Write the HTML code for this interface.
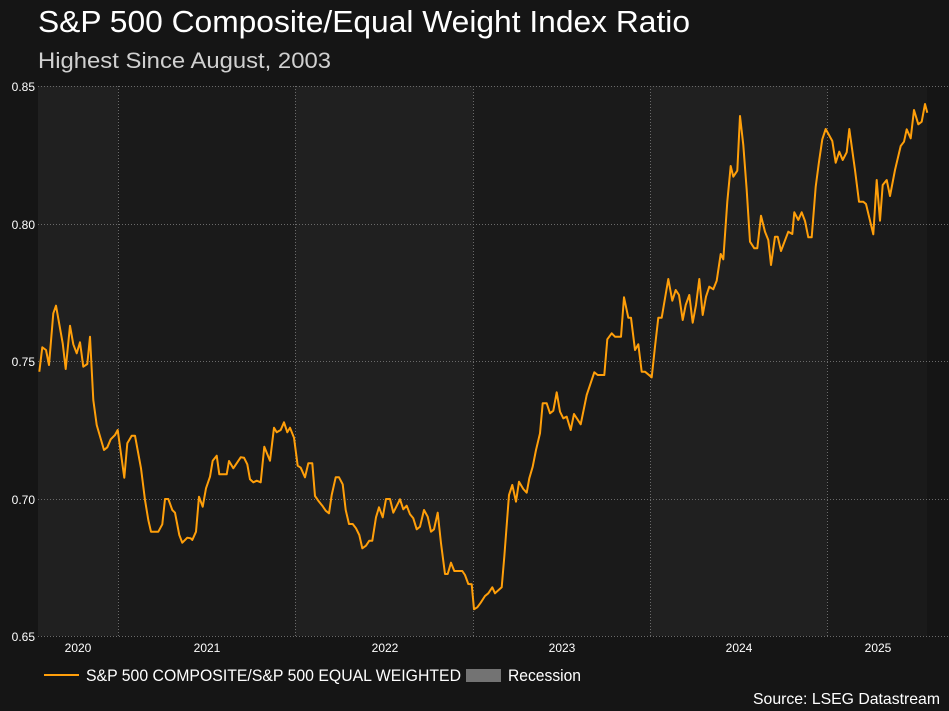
<!DOCTYPE html>
<html><head><meta charset="utf-8"><style>
body{margin:0;background:#151515;}
svg{display:block;font-family:"Liberation Sans",Arial,sans-serif;}
</style></head><body>
<svg width="949" height="711" viewBox="0 0 949 711" xmlns="http://www.w3.org/2000/svg">
<rect width="949" height="711" fill="#151515"/>
<text x="38" y="32" font-size="31" fill="#ffffff" textLength="652" lengthAdjust="spacingAndGlyphs">S&amp;P 500 Composite/Equal Weight Index Ratio</text>
<text x="38" y="68" font-size="22.5" fill="#d0d0d0" textLength="293" lengthAdjust="spacingAndGlyphs">Highest Since August, 2003</text>
<rect x="38" y="86" width="80" height="550" fill="#202020"/>
<rect x="118" y="86" width="177" height="550" fill="#1a1a1a"/>
<rect x="295" y="86" width="178" height="550" fill="#202020"/>
<rect x="473" y="86" width="177" height="550" fill="#1a1a1a"/>
<rect x="650" y="86" width="177" height="550" fill="#202020"/>
<rect x="827" y="86" width="100" height="550" fill="#1a1a1a"/>
<g stroke="#6a6a6a" stroke-width="1" stroke-dasharray="1,2">
<line x1="38" y1="86.5" x2="949" y2="86.5"/><line x1="38" y1="224.5" x2="949" y2="224.5"/>
<line x1="38" y1="361.5" x2="949" y2="361.5"/><line x1="38" y1="499.5" x2="949" y2="499.5"/>
<line x1="38" y1="636.5" x2="949" y2="636.5"/>
<line x1="118.5" y1="86" x2="118.5" y2="636"/><line x1="295.5" y1="86" x2="295.5" y2="636"/>
<line x1="473.5" y1="86" x2="473.5" y2="636"/><line x1="650.5" y1="86" x2="650.5" y2="636"/>
<line x1="827.5" y1="86" x2="827.5" y2="636"/>
</g>
<g font-size="12" fill="#ffffff" text-anchor="end">
<text x="35" y="91">0.85</text><text x="35" y="229">0.80</text><text x="35" y="366">0.75</text>
<text x="35" y="504">0.70</text><text x="35" y="641">0.65</text>
</g>
<g font-size="12" fill="#ffffff" text-anchor="middle">
<text x="78" y="652">2020</text><text x="207" y="652">2021</text><text x="385" y="652">2022</text>
<text x="562" y="652">2023</text><text x="739" y="652">2024</text><text x="878" y="652">2025</text>
</g>
<polyline fill="none" stroke="#ff9f0a" stroke-width="2" stroke-linejoin="round" points="39.3,371.7 42.3,347.3 46,350 49,365 53.3,313.3 56,305.7 62.7,343.3 65.7,369 70,325.7 73.3,344.3 76.7,353.3 80,342.3 83.3,366.7 87.3,364 90,336.7 93.3,400 96.7,425 104,450 107.3,447.3 110.7,439.3 115,435 117.7,430 124.3,477.7 127.3,443.3 131.7,435.7 135,435.7 141,468.3 145,500 148.3,520 151,531.7 158.3,531.7 162.3,524.3 165,499 168.3,499 172.3,510 175,512.7 179.3,535 182.3,542.7 187.3,537.7 190.7,538.3 192.3,540 196,531.7 199,496.7 202.7,506.7 206,488.3 210,476.7 212.7,460.7 216.7,455.7 219.3,474.3 226.7,474.3 229,461 233.3,468.3 240.7,457.3 244,457.7 247.3,464.3 250,479.3 253.3,482.3 256.7,480.7 260.7,482.3 264.3,446.7 270,460.7 274,427.7 276.7,432.3 280.7,430 284,422.3 287.3,432.3 290,427.7 294,437.7 297.7,465.7 300.7,467.7 305,477.3 308.3,463.3 312.3,463.3 315,496 318.3,500.7 322.3,505.7 325.7,510.7 329,513.3 331.7,495 335.7,477.3 339,477.3 342.7,484.3 345.7,510 349,524 352.7,524 356,528.3 359.3,535 362.3,548.3 366,545.7 369.3,540.7 372.3,540.7 376,517.3 379,507.3 382.7,517.3 386,499 390,499 393.3,512.7 400,499.3 403.3,509.3 406.7,505.7 410,514.3 413.3,518.3 416.7,529.3 420,526.7 424,510 427.7,516.7 431,531.7 434,529.3 437.7,512.7 441,543.3 445,574 447.7,574 451,562.7 454.3,571 462.3,571 465,575 468.3,584 471.7,584.3 474,609.3 477.3,607.3 480.7,602.7 485,596 488.3,593.3 492.3,587.3 495,593.3 501.7,587.3 504.3,556.7 509,495 512.3,485 516,501.7 519,481.7 523.3,489 526.7,492.7 529.3,478.3 532.7,466.7 536,450 540,433.3 542.7,403.3 546.7,403.3 550,413.3 553.3,410.7 556.7,392.3 560,411.7 563.3,418.3 566.7,416.7 570.7,430 574,414 580.7,424.3 586.7,395 594.3,372.3 597.7,375 604.3,375 607.3,339.3 611.7,333.3 615,336.7 621,336.7 624,297.3 628.3,317.7 631,317.7 635,350 638.3,344.3 641.7,371.7 645,371.7 651.7,377.3 655,346.7 658.3,317.7 661.7,317.7 668.3,279 672.3,300.7 675.7,290 679,295 682.7,320 685.7,305 689.3,295 692.7,322.7 696,305 699.3,279 702.7,315 706,296.7 709.3,286.7 713.3,289.3 716.7,280.7 720.7,254 723.3,259.3 727.3,201.7 730.7,166 733.3,176.7 737.3,170.7 740,116 743.3,145 746.7,190 750,241.7 754.3,248.3 757.3,248.3 761,215.7 765,231.7 768.3,240 771,265 775,236.7 777.7,236.7 781,251 788.3,231.7 792.3,234 794.3,212.3 798.3,220 801.7,212.3 805,221 808.3,237.3 811.7,237.3 815.7,186.7 819,161.7 822.3,139.3 825.7,129 829,135 832.3,141 835.7,162.7 839.3,151.7 842.7,160 846.7,152.3 849.3,129 855,170 859,201.7 863.3,201.7 866,204 873.3,234.3 876.7,180 880,220.7 882.7,185 886.7,180 890,196 895,170 900.7,146 904,141.7 906.7,129.3 910.7,138.3 914,110 918.3,124.3 921.7,121.7 925,104 927.3,112.7"/>
<line x1="44" y1="675" x2="79" y2="675" stroke="#ff9f0a" stroke-width="2"/>
<text x="86" y="681" font-size="17" fill="#ffffff" textLength="375" lengthAdjust="spacingAndGlyphs">S&amp;P 500 COMPOSITE/S&amp;P 500 EQUAL WEIGHTED</text>
<rect x="466" y="669" width="35" height="13" fill="#737373"/>
<text x="508" y="681" font-size="17" fill="#ffffff" textLength="73" lengthAdjust="spacingAndGlyphs">Recession</text>
<text x="940" y="704" font-size="16" fill="#ffffff" text-anchor="end" textLength="187" lengthAdjust="spacingAndGlyphs">Source: LSEG Datastream</text>
</svg>
</body></html>
